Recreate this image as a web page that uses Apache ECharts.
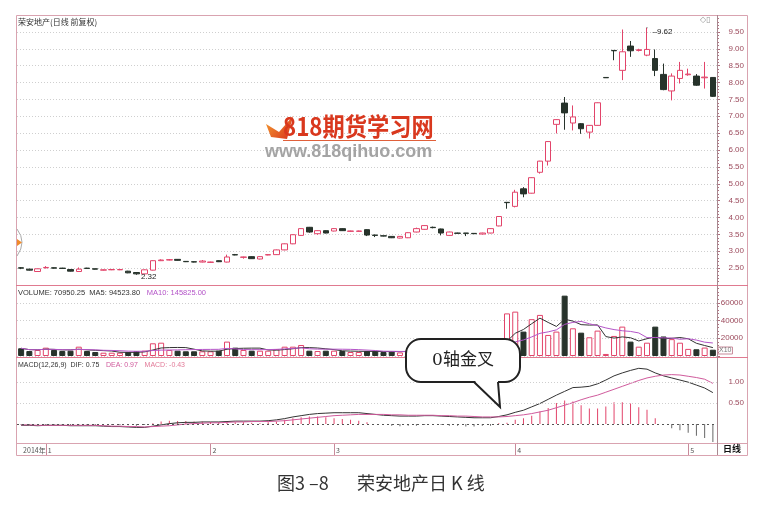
<!DOCTYPE html>
<html><head><meta charset="utf-8">
<script src="https://cdn.jsdelivr.net/npm/echarts@6/dist/echarts.min.js"></script>
<style>html,body{margin:0;padding:0;background:#fff}#c{width:758px;height:507px}</style>
</head><body><div id="c"></div>
<script>
// ---- data ----
const opens  = [2.51,2.47,2.40,2.51,2.51,2.50,2.46,2.40,2.50,2.48,2.44,2.45,2.45,2.41,2.37,2.33,2.44,2.72,2.74,2.76,2.70,2.69,2.68,2.67,2.72,2.68,2.90,2.82,2.84,2.77,2.89,2.90,3.04,3.22,3.47,3.71,3.52,3.61,3.60,3.67,3.59,3.59,3.64,3.48,3.46,3.44,3.39,3.40,3.57,3.65,3.71,3.66,3.47,3.54,3.54,3.53,3.51,3.54,3.75,4.45,4.33,4.85,4.72,5.34,5.67,6.76,7.39,6.80,6.78,6.53,6.73,8.15,8.95,8.36,9.08,8.95,8.81,8.71,8.24,7.75,8.12,8.23,8.19,8.14,8.15];
const closes = [2.50,2.44,2.48,2.52,2.50,2.49,2.41,2.47,2.49,2.47,2.45,2.46,2.46,2.36,2.33,2.45,2.72,2.74,2.75,2.73,2.69,2.68,2.71,2.68,2.69,2.83,2.89,2.83,2.78,2.84,2.90,3.04,3.22,3.49,3.67,3.57,3.61,3.54,3.67,3.61,3.60,3.60,3.48,3.47,3.45,3.40,3.44,3.55,3.67,3.76,3.70,3.54,3.57,3.53,3.53,3.52,3.54,3.67,4.03,4.44,4.75,4.70,5.18,5.67,6.25,6.90,7.10,6.98,6.63,6.73,7.40,8.14,8.94,8.91,8.94,8.97,8.98,8.36,7.79,8.19,8.36,8.25,7.92,8.16,7.59];
const lows   = [2.47,2.43,2.39,2.49,2.49,2.48,2.40,2.39,2.48,2.46,2.43,2.44,2.44,2.35,2.32,2.33,2.43,2.71,2.73,2.72,2.68,2.67,2.67,2.66,2.68,2.67,2.88,2.78,2.77,2.76,2.88,2.89,3.03,3.21,3.46,3.55,3.49,3.53,3.59,3.60,3.58,3.58,3.45,3.42,3.44,3.39,3.38,3.39,3.56,3.64,3.68,3.47,3.46,3.52,3.45,3.51,3.50,3.53,3.74,4.26,4.30,4.60,4.71,5.30,5.54,6.49,6.60,6.58,6.48,6.34,6.72,8.14,8.66,8.07,8.76,8.92,8.78,8.19,7.77,7.47,7.97,8.20,7.90,7.82,7.57];
const highs  = [2.53,2.48,2.49,2.56,2.52,2.51,2.47,2.52,2.51,2.48,2.46,2.47,2.47,2.42,2.38,2.46,2.73,2.76,2.77,2.77,2.71,2.70,2.74,2.69,2.73,2.90,2.92,2.84,2.85,2.85,2.91,3.05,3.23,3.50,3.68,3.72,3.62,3.62,3.68,3.68,3.61,3.61,3.65,3.49,3.46,3.45,3.45,3.56,3.70,3.77,3.73,3.67,3.58,3.55,3.54,3.53,3.55,3.68,4.04,4.45,4.82,4.90,5.19,5.68,6.26,6.91,7.57,7.32,6.80,6.74,7.41,8.15,8.95,9.57,9.23,9.00,9.62,8.98,8.56,8.27,8.61,8.41,8.25,8.61,8.16];
const volumes = [8700,5600,6800,9400,6800,5600,6000,10500,5600,4500,3700,3700,3700,4500,5300,6000,14300,15000,6800,6000,5300,5300,5300,5300,6000,16200,9400,6800,6000,6000,6000,7800,10500,10500,12400,6000,5600,6000,6000,5600,4500,4500,5600,5600,4500,5000,4000,6000,9000,10000,8000,7000,7000,6000,7000,5000,6000,9000,15000,48000,50000,27500,41500,46300,23700,27500,68000,31200,26300,21100,28600,2300,22600,33100,16200,10500,15000,33100,22000,19000,15000,8000,7600,9500,7095];
const limitUpDays = [59, 71, 72];   // flat (T / one-price) limit-up days: red volume bar
const difValues = [-0.03,-0.03,-0.04,-0.03,-0.03,-0.03,-0.04,-0.04,-0.04,-0.04,-0.05,-0.06,-0.06,-0.07,-0.08,-0.08,-0.05,-0.02,0.01,0.03,0.04,0.04,0.05,0.05,0.05,0.06,0.07,0.07,0.07,0.07,0.08,0.10,0.13,0.17,0.20,0.23,0.25,0.26,0.27,0.27,0.27,0.27,0.25,0.23,0.21,0.20,0.19,0.19,0.19,0.20,0.20,0.19,0.18,0.17,0.16,0.15,0.15,0.15,0.18,0.22,0.28,0.33,0.41,0.49,0.59,0.69,0.78,0.87,0.88,0.90,0.96,1.05,1.15,1.22,1.28,1.33,1.31,1.22,1.15,1.10,1.05,1.00,0.93,0.86,0.75];
const deaValues = [-0.02,-0.02,-0.03,-0.03,-0.03,-0.03,-0.03,-0.03,-0.03,-0.03,-0.04,-0.05,-0.05,-0.06,-0.06,-0.07,-0.06,-0.05,-0.04,-0.02,0.00,0.01,0.02,0.03,0.03,0.04,0.05,0.05,0.06,0.06,0.06,0.07,0.08,0.10,0.12,0.14,0.16,0.18,0.20,0.21,0.22,0.23,0.23,0.23,0.23,0.22,0.22,0.21,0.21,0.21,0.21,0.20,0.20,0.19,0.19,0.18,0.17,0.17,0.17,0.18,0.20,0.22,0.25,0.29,0.33,0.39,0.45,0.51,0.58,0.64,0.69,0.76,0.83,0.90,0.97,1.04,1.10,1.14,1.17,1.18,1.17,1.14,1.11,1.07,0.97];
const macdValues = [-0.02,-0.02,-0.03,-0.02,-0.02,-0.02,-0.03,-0.02,-0.02,-0.02,-0.03,-0.02,-0.02,-0.03,-0.04,-0.02,0.02,0.06,0.08,0.07,0.07,0.06,0.06,0.05,0.04,0.04,0.04,0.04,0.03,0.02,0.04,0.06,0.10,0.14,0.16,0.18,0.18,0.16,0.14,0.12,0.10,0.08,0.04,0.00,-0.02,-0.04,-0.05,-0.04,-0.04,-0.02,-0.02,-0.02,-0.04,-0.04,-0.06,-0.06,-0.04,-0.04,0.02,0.03,0.10,0.14,0.20,0.30,0.38,0.50,0.56,0.54,0.45,0.37,0.37,0.42,0.52,0.52,0.49,0.40,0.34,0.14,0.00,-0.10,-0.15,-0.21,-0.28,-0.33,-0.43];
const monthStarts = [3, 23, 38, 60, 81];
const monthLabels = ['1', '2', '3', '4', '5'];
const yearLabel = '2014年';
const priceTicks = [2.5, 9.5];          // first / last labelled price
const volumeTicks = [20000, 60000];     // first / last labelled volume
const macdTicks = [0.5, 1.0];
const days = opens.map((_, i) => 'd' + (i + 1));

// ---- styling ----
const RED = '#e2446a', DARK = '#27332b', AXC = '#9c4a5c', FR = '#d9a3b0';
const NUM = '"Liberation Sans","Noto Sans CJK SC",sans-serif';
const CJK = '"Noto Sans CJK SC",sans-serif';

function movingAvg(arr, n) {
  return arr.map((_, i) => {
    const s = arr.slice(Math.max(0, i - n + 1), i + 1);
    return +(s.reduce((a, b) => a + b, 0) / s.length).toFixed(0);
  });
}
const ma5 = movingAvg(volumes, 5), ma10 = movingAvg(volumes, 10);

const candleData = opens.map((o, i) => [o, closes[i], lows[i], highs[i]]);
const volData = volumes.map((v, i) => ({
  value: v,
  itemStyle: (closes[i] >= opens[i] || limitUpDays.includes(i))
    ? {color: '#fff', borderColor: RED, borderWidth: 1}
    : {color: DARK, borderColor: DARK, borderWidth: 1}
}));
const macdData = macdValues.map(v => ({value: v, itemStyle: {color: v >= 0 ? RED : '#666'}}));

let minI = 0, maxI = 0;
lows.forEach((v, i) => { if (v < lows[minI]) minI = i; });
highs.forEach((v, i) => { if (v > highs[maxI]) maxI = i; });

const xBase = (g) => ({type: 'category', gridIndex: g, data: days, boundaryGap: true, show: false});
const near = (a, b) => Math.abs(a - b) < 1e-6;
const yCommon = {
  type: 'value', position: 'right', axisLine: {show: false},
  axisTick: {show: true, length: 3, lineStyle: {color: '#b07080'}},
  minorTick: {show: true, splitNumber: 5, length: 2, lineStyle: {color: '#b07080'}},
  splitLine: {show: true, lineStyle: {color: '#cfcfcf', type: [1, 2]}}
};

const chart = echarts.init(document.getElementById('c'), null, {renderer: 'canvas'});
chart.setOption({
  animation: false,
  backgroundColor: '#fff',
  grid: [
    {left: 17, top: 15, width: 700, height: 270, show: false},
    {left: 17, top: 285, width: 700, height: 71, show: false},
    {left: 17, top: 357, width: 700, height: 88, show: false},
    {left: 17, top: 443, width: 700, height: 12, show: false}
  ],
  xAxis: [xBase(0), xBase(1), xBase(2), {
    type: 'category', gridIndex: 3, data: days, boundaryGap: true, position: 'bottom',
    axisLine: {show: false},
    axisTick: {show: true, inside: true, length: 12, alignWithLabel: true,
      interval: (i) => monthStarts.includes(i), lineStyle: {color: '#c88a9a'}},
    axisLabel: {show: true, inside: true, margin: 1, align: 'left', padding: [0, 0, 0, 2],
      interval: (i) => i === 0 || monthStarts.includes(i),
      formatter: (v, i) => i === 0 ? yearLabel : monthLabels[monthStarts.indexOf(i)],
      fontSize: 7, color: '#555', fontFamily: CJK}
  }],
  yAxis: [
    Object.assign({}, yCommon, {gridIndex: 0, min: 2, max: 10, interval: 0.5,
      axisLabel: {fontSize: 8, color: AXC, fontFamily: NUM, align: 'right', margin: 27,
        formatter: v => (v < priceTicks[0] - 1e-6 || v > priceTicks[1] + 1e-6) ? '' : v.toFixed(2)}}),
    Object.assign({}, yCommon, {gridIndex: 1, min: 0, max: 80000, interval: 20000,
      axisLabel: {fontSize: 8, color: AXC, fontFamily: NUM, align: 'right', margin: 26,
        formatter: v => (v < volumeTicks[0] || v > volumeTicks[1]) ? '' : String(v)}}),
    Object.assign({}, yCommon, {gridIndex: 2, min: -0.5, max: 1.6, interval: 0.5,
      splitLine: {show: false}, minorTick: {show: false},
      axisTick: {show: false},
      axisLabel: {fontSize: 8, color: AXC, fontFamily: NUM, align: 'right', margin: 27,
        formatter: v => macdTicks.some(t => near(t, v)) ? v.toFixed(2) : ''}}),
    {type: 'value', gridIndex: 3, show: false, min: 0, max: 1}
  ],
  series: [
    {type: 'candlestick', xAxisIndex: 0, yAxisIndex: 0, barWidth: 6, data: candleData,
      itemStyle: {color: '#fff', color0: DARK, borderColor: RED, borderColor0: DARK, borderWidth: 1},
      markPoint: {symbol: 'circle', symbolSize: 1, itemStyle: {color: '#222'},
        label: {show: true, position: 'right', fontSize: 8, color: '#222', fontFamily: NUM},
        data: [
          {coord: [minI, lows[minI]], label: {formatter: lows[minI].toFixed(2), offset: [-1, 3]}},
          {coord: [maxI, highs[maxI]], label: {formatter: '‒' + highs[maxI].toFixed(2), offset: [0, 4]}}
        ]}},
    {type: 'bar', xAxisIndex: 1, yAxisIndex: 1, barWidth: 6, data: volData},
    {type: 'line', xAxisIndex: 1, yAxisIndex: 1, data: ma5, symbol: 'none', lineStyle: {color: '#333', width: 1}},
    {type: 'line', xAxisIndex: 1, yAxisIndex: 1, data: ma10, symbol: 'none', lineStyle: {color: '#b455c8', width: 1}},
    {type: 'bar', xAxisIndex: 2, yAxisIndex: 2, barWidth: 1, data: macdData},
    {type: 'line', xAxisIndex: 2, yAxisIndex: 2, data: difValues, symbol: 'none', lineStyle: {color: '#333', width: 1},
      markLine: {silent: true, symbol: 'none', label: {show: false},
        data: [
          {yAxis: 0, lineStyle: {color: '#555', type: [2, 3], width: 1}},
          {yAxis: macdTicks[0], lineStyle: {color: '#cfcfcf', type: [1, 2], width: 1}},
          {yAxis: macdTicks[1], lineStyle: {color: '#cfcfcf', type: [1, 2], width: 1}}
        ]}},
    {type: 'line', xAxisIndex: 2, yAxisIndex: 2, data: deaValues, symbol: 'none', lineStyle: {color: '#d05a9c', width: 1}},
    {type: 'line', xAxisIndex: 3, yAxisIndex: 3, data: [], symbol: 'none'}
  ],
  graphic: [
    // frame
    {type: 'rect', shape: {x: 16.5, y: 15.5, width: 731, height: 440}, style: {fill: null, stroke: FR, lineWidth: 1}, z: 50},
    {type: 'line', shape: {x1: 16, y1: 285.5, x2: 748, y2: 285.5}, style: {stroke: '#e07a90', lineWidth: 1}, z: 50},
    {type: 'line', shape: {x1: 16, y1: 357.5, x2: 748, y2: 357.5}, style: {stroke: '#e07a90', lineWidth: 1}, z: 50},
    {type: 'line', shape: {x1: 16, y1: 443.5, x2: 748, y2: 443.5}, style: {stroke: FR, lineWidth: 1}, z: 50},
    {type: 'line', shape: {x1: 717.5, y1: 15, x2: 717.5, y2: 455}, style: {stroke: '#a88890', lineWidth: 1}, z: 50},
    // headers
    {type: 'text', x: 18, y: 18, z: 60, style: {text: '荣安地产(日线 前复权)', fill: '#333', font: '8px "Noto Sans CJK SC"'}},
    {type: 'text', x: 700, y: 16, z: 60, style: {text: '◇▯', fill: '#999', font: '8px "DejaVu Sans"'}},
    {type: 'text', x: 18, y: 287, z: 60, style: {text: '{a|VOLUME: 70950.25  MA5: 94523.80}  {b|MA10: 145825.00}',
      rich: {a: {fill: '#333', fontSize: 7.5, fontFamily: NUM}, b: {fill: '#b455c8', fontSize: 7.5, fontFamily: NUM}}}},
    {type: 'text', x: 18, y: 359, z: 60, style: {text: '{a|MACD(12,26,9)  DIF: 0.75}  {b|DEA: 0.97}  {c|MACD: -0.43}',
      rich: {a: {fill: '#333', fontSize: 7, fontFamily: NUM}, b: {fill: '#d05a9c', fontSize: 7, fontFamily: NUM}, c: {fill: '#e27a98', fontSize: 7, fontFamily: NUM}}}},
    {type: 'text', x: 718, y: 347, z: 60, style: {text: 'X10', fill: '#777', font: '7px "Liberation Sans"', borderColor: '#c88a9a', borderWidth: 1, padding: [0, 1]}},
    {type: 'text', x: 732, y: 449, z: 60, style: {text: '日线', fill: '#111', font: 'bold 9px "Noto Sans CJK SC"', align: 'center', verticalAlign: 'middle'}},
    // left scroll marker
    {type: 'bezierCurve', z: 60, shape: {x1: 17, y1: 229, x2: 17, y2: 256, cpx1: 27, cpy1: 242}, style: {fill: null, stroke: '#aaa', lineWidth: 1}},
    {type: 'polygon', z: 60, shape: {points: [[17, 239], [22, 242.5], [17, 246]]}, style: {fill: '#f08a2a'}},
    // watermark
    {type: 'polygon', z: 40, shape: {points: [[266, 124], [279, 132], [293, 116], [287, 139], [271, 137]]},
      style: {fill: new echarts.graphic.LinearGradient(0, 0, 1, 1, [{offset: 0, color: '#f5a030'}, {offset: 1, color: '#d8301c'}])}},
    {type: 'text', x: 283, y: 114, scaleX: 0.89, z: 40, style: {text: '818期货学习网', fill: '#d9381e', font: 'bold 25px "Noto Sans CJK SC"'}},
    {type: 'line', z: 40, shape: {x1: 283, y1: 140.5, x2: 436, y2: 140.5}, style: {stroke: '#e0603a', lineWidth: 1}},
    {type: 'text', x: 265, y: 143, z: 40, style: {text: 'www.818qihuo.com', fill: '#a4a4a4', font: 'bold 18px "Liberation Sans"'}},
    // callout
    {type: 'rect', z: 100, shape: {x: 406, y: 339, width: 114, height: 43, r: 15}, style: {fill: '#fff', stroke: '#222', lineWidth: 2}},
    {type: 'polygon', z: 101, shape: {points: [[475, 379], [498, 379], [498, 385], [476, 385]]}, style: {fill: '#fff'}},
    {type: 'polyline', z: 102, shape: {points: [[474, 382], [500, 407], [498, 382]]}, style: {fill: null, stroke: '#222', lineWidth: 2}},
    {type: 'text', x: 463, y: 361, z: 103, style: {text: '0轴金叉', fill: '#222', font: '17px "DejaVu Serif","Noto Sans CJK SC"', align: 'center', verticalAlign: 'middle'}},
    // caption
    {type: 'text', x: 277, y: 483, z: 60, style: {text: '图3 –8', fill: '#333', font: '18px "Noto Sans CJK SC"', align: 'left', verticalAlign: 'middle'}},
    {type: 'text', x: 357, y: 483, z: 60, style: {text: '荣安地产日 K 线', fill: '#333', font: '18px "Noto Sans CJK SC"', align: 'left', verticalAlign: 'middle'}}
  ]
});
</script></body></html>
